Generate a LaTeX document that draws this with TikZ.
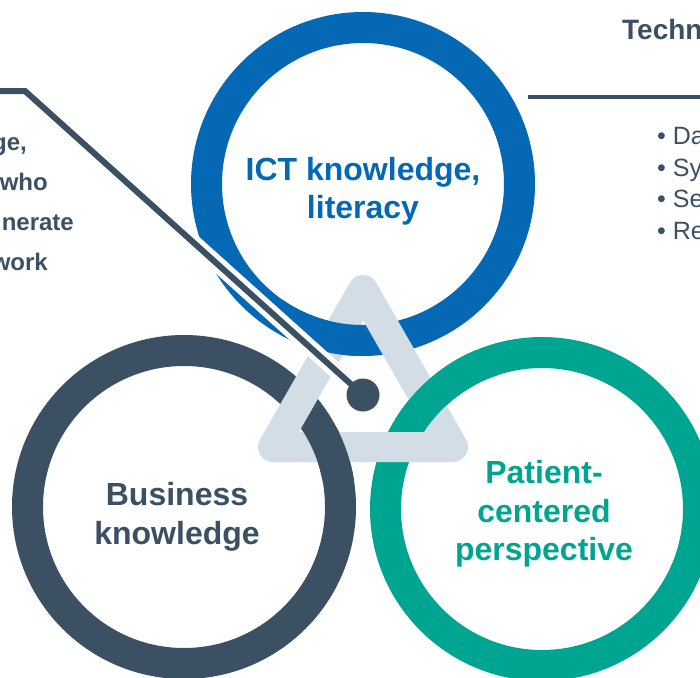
\documentclass[tikz,border=0pt]{standalone}
\usepackage{fontspec}
\setmainfont{Liberation Sans}
\definecolor{ictblue}{RGB}{4,104,180}
\definecolor{slate}{RGB}{60,80,100}
\definecolor{pgreen}{RGB}{0,165,145}
\definecolor{trigray}{RGB}{211,221,230}
\begin{document}
\begin{tikzpicture}[x=1pt,y=-1pt,
  ring/.style={line width=31pt},
  tri/.style={draw=trigray,line width=30pt,line join=round},
  lbl/.style={font=\bfseries\fontsize{32}{38}\selectfont,anchor=base,inner sep=0pt},
  lefttxt/.style={font=\bfseries\fontsize{24}{28}\selectfont,text=slate,anchor=base east,inner sep=0pt},
  bul/.style={font=\fontsize{25}{30}\selectfont,text=slate,anchor=base west,inner sep=0pt},
  dotnode/.style={circle,fill=slate,minimum size=33pt,inner sep=0pt}]
\useasboundingbox (0,0) rectangle (700,677);
\clip (0,0) rectangle (700,677);
\fill[white] (0,0) rectangle (700,677);
% centres
\coordinate (cB) at (363,184);
\coordinate (cD) at (184,507);
\coordinate (cG) at (542,509);
\coordinate (tA) at (363,290);
\coordinate (tL) at (273,447);
\coordinate (tR) at (453,447);
% rings
\draw[ring,draw=ictblue] (cB) circle[radius=156.5pt];
\draw[ring,draw=slate] (cD) circle[radius=156.5pt];
\draw[ring,draw=pgreen] (cG) circle[radius=156.5pt];
% triangle
\draw[tri] (tA) -- (tL) -- (tR) -- cycle;
% rings passing over the triangle
\begin{scope}
  \clip (280,300) rectangle (363,375);
  \draw[ring,draw=ictblue] (cB) circle[radius=156.5pt];
\end{scope}
\begin{scope}
  \clip (301,429) rectangle (400,480);
  \draw[ring,draw=slate] (cD) circle[radius=156.5pt];
\end{scope}
\begin{scope}
  \clip (380,350) rectangle (500,431);
  \draw[ring,draw=pgreen] (cG) circle[radius=156.5pt];
\end{scope}
% leader to the dot
\coordinate (l0) at (-5,91);
\coordinate (l1) at (25,91);
\node[dotnode] (dot) at (363,395) {};
\draw[white,line width=16pt] (l1) -- (dot);
\draw[slate,line width=6pt,line join=miter] (l0) -- (l1) -- (dot.center);
% top right leader
\coordinate (r0) at (528,97);
\coordinate (r1) at (705,97);
\draw[slate,line width=4pt] (r0) -- (r1);
% circle labels
\node[lbl,text=ictblue] (ict1) at (363,180) {ICT knowledge,};
\node[lbl,text=ictblue] (ict2) at (363,218) {literacy};
\node[lbl,text=slate] (bus1) at (177,505) {Business};
\node[lbl,text=slate] (bus2) at (177,544) {knowledge};
\node[lbl,text=pgreen] (pat1) at (544,483) {Patient-};
\node[lbl,text=pgreen] (pat2) at (544,522) {centered};
\node[lbl,text=pgreen] (pat3) at (544,560) {perspective};
% left text fragments
\node[lefttxt] (lt1) at (27,150) {ge,};
\node[lefttxt] (lt2) at (48,190) {who};
\node[lefttxt] (lt3) at (74,230) {nerate};
\node[lefttxt] (lt4) at (48,270) {work};
% right text fragments
\node[font=\bfseries\fontsize{28}{32}\selectfont,text=slate,anchor=base west,inner sep=0pt] (tech) at (622,40) {Techn};
\node[bul] (b1) at (657,144) {• Da};
\node[bul] (b2) at (657,176) {• Sy};
\node[bul] (b3) at (657,207) {• Se};
\node[bul] (b4) at (657,239) {• Re};
\end{tikzpicture}
\end{document}
